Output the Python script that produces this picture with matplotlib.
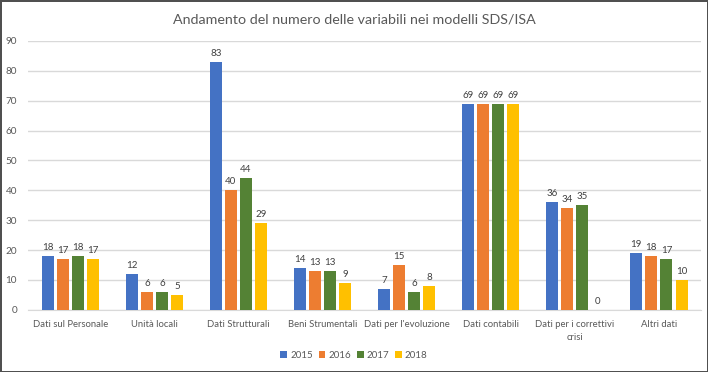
import matplotlib.pyplot as plt
import numpy as np

categories = ['Dati sul Personale', 'Unità locali', 'Dati Strutturali', 'Beni Strumentali',
              "Dati per l'evoluzione", 'Dati contabili', 'Dati per i correttivi\ncrisi', 'Altri dati']
years = ['2015', '2016', '2017', '2018']
v2015 = [18, 12, 83, 14, 7, 69, 36, 19]
v2016 = [17, 6, 40, 13, 15, 69, 34, 18]
v2017 = [18, 6, 44, 13, 6, 69, 35, 17]
v2018 = [17, 5, 29, 9, 8, 69, 0, 10]
series = [v2015, v2016, v2017, v2018]
colors = ['#4472C4', '#ED7D31', '#548235', '#FFC000']

plt.rcParams['font.family'] = ['Lato', 'DejaVu Sans']
txt = '#595959'

fig = plt.figure(figsize=(7.08, 3.72), dpi=100)
fig.patch.set_edgecolor('#505050')
fig.patch.set_linewidth(2)
ax = fig.add_axes([0.04, 0.167, 0.95, 0.723])

x = np.arange(len(categories))
w = 0.143
step = 0.18
for i, (vals, c, yr) in enumerate(zip(series, colors, years)):
    pos = x + (i - 1.5) * step
    ax.bar(pos, vals, w, color=c, label=yr, zorder=3)
    for p, v in zip(pos, vals):
        ax.annotate(str(v), (p, v), xytext=(0, 3), textcoords='offset points',
                    ha='center', va='bottom', fontsize=7, color='#404040')

ax.set_xlim(-0.5, len(categories) - 0.5)
ax.set_ylim(0, 90)
ax.set_yticks(range(0, 91, 10))
ax.yaxis.grid(True, color='#D9D9D9', linewidth=1, zorder=0)
for s in ['top', 'right', 'left']:
    ax.spines[s].set_visible(False)
ax.spines['bottom'].set_color('#D9D9D9')
ax.tick_params(axis='both', length=0, labelsize=7.2, colors=txt)
ax.tick_params(axis='x', pad=7)
ax.tick_params(axis='y', pad=8)
ax.set_xticks(x)
ax.set_xticklabels(categories, fontsize=6.8, color=txt, linespacing=1.6)

fig.suptitle('Andamento del numero delle variabili nei modelli SDS/ISA', y=0.965,
             fontsize=10.3, color=txt)
fig.legend(loc='lower center', ncol=4, frameon=False, fontsize=7, handlelength=0.7,
           handleheight=0.7, handletextpad=0.3, columnspacing=0.6,
           bbox_to_anchor=(0.5, 0.01), labelcolor=txt)

fig.savefig('out.png', dpi=100)
